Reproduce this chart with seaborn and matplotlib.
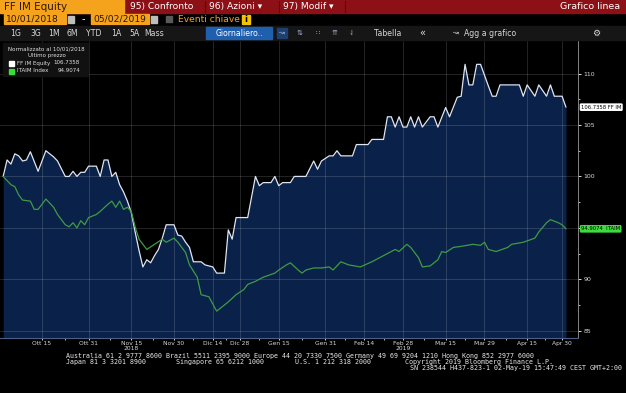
import numpy as np
import pandas as pd
import matplotlib
matplotlib.use("Agg")
import matplotlib.pyplot as plt
import seaborn as sns
from matplotlib import font_manager
from matplotlib.patches import Rectangle
from matplotlib.transforms import blended_transform_factory

# ------------------------------------------------------------
# Dati (normalizzati a 100 al 01/10/2018)
# ------------------------------------------------------------
holidays = ["2018-12-24", "2018-12-25", "2018-12-26", "2018-12-31",
            "2019-01-01", "2019-04-19", "2019-04-22", "2019-05-01"]

ff_dates = [
    "2018-10-01", "2018-10-02", "2018-10-03", "2018-10-04", "2018-10-05", "2018-10-08",
    "2018-10-09", "2018-10-10", "2018-10-12", "2018-10-16", "2018-10-18", "2018-10-19",
    "2018-10-23", "2018-10-24", "2018-10-25", "2018-10-26", "2018-10-29", "2018-10-30",
    "2018-10-31", "2018-11-02", "2018-11-05", "2018-11-06", "2018-11-07", "2018-11-08",
    "2018-11-09", "2018-11-12", "2018-11-13", "2018-11-14", "2018-11-15", "2018-11-16",
    "2018-11-19", "2018-11-20", "2018-11-21", "2018-11-22", "2018-11-23", "2018-11-26",
    "2018-11-27", "2018-11-28", "2018-11-30", "2018-12-03", "2018-12-04", "2018-12-05",
    "2018-12-06", "2018-12-07", "2018-12-11", "2018-12-12", "2018-12-14", "2018-12-17",
    "2018-12-19", "2018-12-20", "2018-12-21", "2018-12-27", "2019-01-03", "2019-01-07",
    "2019-01-08", "2019-01-09", "2019-01-11", "2019-01-14", "2019-01-15", "2019-01-16",
    "2019-01-18", "2019-01-21", "2019-01-24", "2019-01-28", "2019-01-29", "2019-01-30",
    "2019-02-01", "2019-02-04", "2019-02-05", "2019-02-06", "2019-02-11", "2019-02-12",
    "2019-02-15", "2019-02-18", "2019-02-21", "2019-02-22", "2019-02-25", "2019-02-26",
    "2019-02-27", "2019-02-28", "2019-03-01", "2019-03-04", "2019-03-05", "2019-03-06",
    "2019-03-07", "2019-03-11", "2019-03-12", "2019-03-13", "2019-03-15", "2019-03-18",
    "2019-03-20", "2019-03-21", "2019-03-22", "2019-03-25", "2019-03-26", "2019-03-27",
    "2019-03-28", "2019-04-01", "2019-04-02", "2019-04-03", "2019-04-04", "2019-04-11",
    "2019-04-12", "2019-04-15", "2019-04-17", "2019-04-18", "2019-04-24", "2019-04-25",
    "2019-04-26", "2019-04-30", "2019-05-02",
]
ff_values = [
    100.0, 101.6, 101.2, 102.2, 102.0, 101.5,
    101.6, 102.4, 100.5, 102.5, 101.9, 101.5,
    100.0, 100.0, 100.5, 100.0, 100.4, 100.4,
    101.0, 101.0, 100.0, 101.6, 101.6, 100.0,
    100.4, 99.2, 98.5, 97.6, 96.5, 94.6,
    92.8, 91.2, 91.9, 91.6, 92.3, 92.9,
    94.0, 95.3, 95.3, 94.3, 94.2, 93.6,
    93.1, 91.7, 91.7, 91.4, 91.2, 90.6,
    90.6, 94.8, 93.9, 96.0, 96.0, 100.0,
    99.1, 99.4, 99.4, 100.0, 99.1, 99.4,
    99.4, 100.0, 100.0, 101.5, 100.7, 101.5,
    102.0, 102.0, 102.5, 102.0, 102.0, 103.1,
    103.1, 103.6, 103.6, 105.8, 105.8, 104.8,
    105.8, 104.8, 104.8, 105.8, 104.8, 105.8,
    104.8, 105.8, 105.8, 104.8, 106.7, 105.8,
    107.7, 107.8, 110.9, 108.9, 108.9, 110.9,
    110.9, 108.8, 107.8, 107.8, 108.9, 108.9,
    107.8, 108.9, 107.8, 108.9, 107.8, 108.9,
    107.8, 107.8, 106.7358,
]

itaim_dates = [
    "2018-10-01", "2018-10-03", "2018-10-04", "2018-10-05", "2018-10-08", "2018-10-10",
    "2018-10-11", "2018-10-12", "2018-10-16", "2018-10-18", "2018-10-19", "2018-10-23",
    "2018-10-24", "2018-10-25", "2018-10-26", "2018-10-29", "2018-10-30", "2018-10-31",
    "2018-11-02", "2018-11-05", "2018-11-07", "2018-11-08", "2018-11-09", "2018-11-12",
    "2018-11-13", "2018-11-14", "2018-11-15", "2018-11-16", "2018-11-19", "2018-11-21",
    "2018-11-23", "2018-11-27", "2018-11-28", "2018-11-30", "2018-12-03", "2018-12-05",
    "2018-12-06", "2018-12-10", "2018-12-11", "2018-12-13", "2018-12-17", "2018-12-20",
    "2018-12-27", "2019-01-02", "2019-01-03", "2019-01-07", "2019-01-09", "2019-01-14",
    "2019-01-15", "2019-01-17", "2019-01-18", "2019-01-22", "2019-01-23", "2019-01-24",
    "2019-01-28", "2019-01-30", "2019-02-01", "2019-02-04", "2019-02-06", "2019-02-08",
    "2019-02-13", "2019-02-18", "2019-02-20", "2019-02-22", "2019-02-26", "2019-02-27",
    "2019-03-01", "2019-03-04", "2019-03-06", "2019-03-07", "2019-03-11", "2019-03-13",
    "2019-03-14", "2019-03-15", "2019-03-19", "2019-03-21", "2019-03-26", "2019-03-28",
    "2019-03-29", "2019-04-01", "2019-04-03", "2019-04-08", "2019-04-09", "2019-04-12",
    "2019-04-17", "2019-04-18", "2019-04-24", "2019-04-25", "2019-04-29", "2019-04-30",
    "2019-05-02",
]
itaim_values = [
    100.0, 99.2, 99.0, 98.2, 97.7, 97.6,
    96.8, 96.8, 97.8, 97.0, 96.3, 95.3,
    95.1, 95.5, 95.0, 95.7, 95.3, 96.0,
    96.3, 96.6, 97.3, 97.6, 97.0, 97.6,
    96.8, 97.0, 96.6, 95.1, 93.9, 92.9,
    93.4, 93.9, 93.6, 94.0, 93.6, 92.6,
    91.4, 90.2, 88.5, 88.3, 86.9, 87.8,
    88.5, 89.0, 89.5, 89.8, 90.2, 90.6,
    90.9, 91.4, 91.6, 90.9, 90.6, 90.9,
    91.1, 91.1, 91.2, 90.9, 91.7, 91.4,
    91.2, 91.7, 92.1, 92.5, 92.9, 92.7,
    93.4, 93.1, 92.1, 91.2, 91.3, 91.9,
    92.7, 92.6, 93.1, 93.2, 93.4, 93.3,
    93.6, 92.9, 92.7, 93.1, 93.4, 93.6,
    94.0, 94.6, 95.5, 95.8, 95.5, 95.3,
    94.9074,
]

tick_dates = ["2018-10-15", "2018-10-31", "2018-11-15", "2018-11-30", "2018-12-14",
              "2018-12-28", "2019-01-15", "2019-01-31", "2019-02-14", "2019-02-28",
              "2019-03-15", "2019-03-29", "2019-04-15", "2019-04-30"]
tick_labels = ["Ott 15", "Ott 31", "Nov 15", "Nov 30", "Dic 14", "Dic 28", "Gen 15",
               "Gen 31", "Feb 14", "Feb 28", "Mar 15", "Mar 29", "Apr 15", "Apr 30"]
year_dates = ["2018-11-15", "2019-02-28"]
year_labels = ["2018", "2019"]

# ------------------------------------------------------------
# Stile
# ------------------------------------------------------------
sns.set_theme(style="dark")
names = {f.name for f in font_manager.fontManager.ttflist}
narrow = "Liberation Sans Narrow" if "Liberation Sans Narrow" in names else "DejaVu Sans"
plt.rcParams["font.family"] = [narrow, "DejaVu Sans"]

BG = "#000000"
NAVY = "#0a2149"
WHITE_LINE = "#dfe6f2"
GREEN_LINE = "#3f9b45"
GREEN_TAG = "#3ddc3d"
ORANGE = "#f5a31c"
MAROON = "#8c1015"
TXT = "#d8d8d8"

# calendario sedute (Borsa Italiana)
sessions = pd.bdate_range("2018-10-01", "2019-05-02").drop(pd.to_datetime(holidays))

ff = pd.DataFrame({"data": pd.to_datetime(ff_dates), "valore": ff_values, "serie": "FF IM Equity"})
it = pd.DataFrame({"data": pd.to_datetime(itaim_dates), "valore": itaim_values, "serie": "ITAIM Index"})
df = pd.concat([ff, it], ignore_index=True)
df["pos"] = sessions.get_indexer(df["data"])
ff["pos"] = sessions.get_indexer(ff["data"])

W, H = 626, 393
fig = plt.figure(figsize=(W / 100, H / 100), dpi=100, facecolor=BG)

# area del grafico (in pixel: x 0-578, y 41-338)
ax = fig.add_axes([0, (H - 338) / H, 578 / W, (338 - 41) / H], zorder=1)
ax.set_facecolor(BG)
ylim = (84.29, 113.17)
ax.set_ylim(*ylim)
ax.set_xlim(-0.82, len(sessions) + 2.1)

ax.fill_between(ff["pos"], ff["valore"], ylim[0], color=NAVY, lw=0, zorder=1)
sns.lineplot(data=df, x="pos", y="valore", hue="serie",
             palette={"FF IM Equity": WHITE_LINE, "ITAIM Index": GREEN_LINE},
             estimator=None, lw=0.9, legend=False, ax=ax, zorder=3)

# griglia
ax.set_axisbelow("line")
ax.grid(True, color="white", alpha=0.17, lw=0.6)

# asse y a destra (il 95 resta sotto l'etichetta verde)
yt = np.arange(85, 111, 5)
ax.yaxis.tick_right()
ax.set_yticks(yt)
ax.set_yticklabels(["" if v == 95 else f"{v:d}" for v in yt])
ax.set_yticks(np.arange(85, 112, 2.5), minor=True)
ax.tick_params(axis="y", which="major", colors="white", labelcolor=TXT, labelsize=4.5,
               length=2.5, width=0.6, pad=1.5, right=True, left=False)
ax.tick_params(axis="y", which="minor", colors="white", length=1.3, width=0.5, right=True, left=False)
ax.grid(False, which="minor")

# asse x
xt = sessions.get_indexer(pd.to_datetime(tick_dates))
ax.set_xticks(xt)
ax.set_xticklabels(tick_labels)
ax.set_xticks((xt[:-1] + xt[1:]) / 2, minor=True)
ax.tick_params(axis="x", which="major", colors="white", labelcolor=TXT, labelsize=4.3,
               length=1.5, width=0.6, pad=0.6, bottom=True)
ax.tick_params(axis="x", which="minor", colors="white", length=1.2, width=0.5, bottom=True)
trans = blended_transform_factory(ax.transData, ax.transAxes)
for d, lab in zip(year_dates, year_labels):
    ax.text(sessions.get_loc(pd.Timestamp(d)), -0.026, lab, transform=trans,
            ha="center", va="top", fontsize=4.3, color=TXT)

ax.set_xlabel("")
ax.set_ylabel("")
for s in ["top", "left"]:
    ax.spines[s].set_visible(False)
ax.spines["bottom"].set_color("#4a5f86")
ax.spines["bottom"].set_linewidth(0.8)
ax.spines["right"].set_color("#9a9a9a")
ax.spines["right"].set_linewidth(0.6)

# etichette ultimo valore
ax.annotate(f"{ff_values[-1]:.4f} FF IM", xy=(1, ff_values[-1]), xycoords=("axes fraction", "data"),
            xytext=(2.2, 0), textcoords="offset points", ha="left", va="center",
            fontsize=3.8, color="black", annotation_clip=False, zorder=10,
            bbox=dict(boxstyle="round,pad=0.25", fc="white", ec="none"))
ax.annotate(f"{itaim_values[-1]:.4f}  ITAIM", xy=(1, itaim_values[-1]), xycoords=("axes fraction", "data"),
            xytext=(2.2, 0), textcoords="offset points", ha="left", va="center",
            fontsize=3.8, color="black", annotation_clip=False, zorder=10,
            bbox=dict(boxstyle="round,pad=0.25", fc=GREEN_TAG, ec="none"))

# ------------------------------------------------------------
# Interfaccia Bloomberg (coordinate in pixel)
# ------------------------------------------------------------
ui = fig.add_axes([0, 0, 1, 1], zorder=3)
ui.set_xlim(0, W)
ui.set_ylim(H, 0)
ui.axis("off")
ui.patch.set_alpha(0)

# riga 1
ui.add_patch(Rectangle((0, 0), W, 12.5, color=MAROON))
ui.add_patch(Rectangle((0, 0), 124, 12.5, color=ORANGE))
ui.text(4, 6.6, "FF IM Equity", fontsize=7.5, color="#2a1600", va="center")
ui.text(130, 6.6, "95) Confronto", fontsize=6.6, color="white", va="center")
ui.text(209, 6.6, "96) Azioni \u25be", fontsize=6.6, color="white", va="center")
ui.text(283, 6.6, "97) Modif \u25be", fontsize=6.6, color="white", va="center")
ui.text(620, 6.6, "Grafico linea", fontsize=6.8, color="white", va="center", ha="right")
for xs in [205, 279, 345]:
    ui.plot([xs, xs], [1, 12], color="#5a080b", lw=0.8)

# riga 2
ui.add_patch(Rectangle((4, 14), 62, 10, color=ORANGE))
ui.text(6, 19.3, "10/01/2018", fontsize=6.6, color="#2a1600", va="center")
ui.add_patch(Rectangle((68, 15.5), 6, 7, color="#bdbdbd"))
ui.text(83, 19, "-", fontsize=7, color="white", va="center", ha="center")
ui.add_patch(Rectangle((91, 14), 58, 10, color=ORANGE))
ui.text(93, 19.3, "05/02/2019", fontsize=6.6, color="#2a1600", va="center")
ui.add_patch(Rectangle((151, 15.5), 6, 7, color="#bdbdbd"))
ui.add_patch(Rectangle((166, 16), 6, 6, color="#5a5a5a"))
ui.text(178, 19.3, "Eventi chiave", fontsize=6.6, color=ORANGE, va="center")
ui.add_patch(Rectangle((242, 14.5), 8, 9, color="#f2c400"))
ui.text(246, 19.3, "i", fontsize=6, color="black", va="center", ha="center", fontweight="bold")

# riga 3
ui.add_patch(Rectangle((0, 25.5), W, 14.5, color="#161616"))
for xc, lab in zip([16, 36, 54, 72, 94, 116, 134, 154],
                   ["1G", "3G", "1M", "6M", "YTD", "1A", "5A", "Mass"]):
    ui.text(xc, 33, lab, fontsize=5.6, color=TXT, va="center", ha="center")
ui.add_patch(Rectangle((206, 27), 66, 11.5, color="#1f5fae"))
ui.text(239, 33, "Giornaliero..", fontsize=5.6, color="white", va="center", ha="center")
ui.add_patch(Rectangle((277, 27.5), 10, 10.5, color="#1f3f70"))
for xc, sym in zip([282, 300, 318, 335, 352], ["\u219d", "\u21c5", "\u2237", "\u21c8", "\u21c3"]):
    ui.text(xc, 33, sym, fontsize=5, color="#9fb8e0", va="center", ha="center", family="DejaVu Sans")
ui.text(388, 33, "Tabella", fontsize=5.6, color=TXT, va="center", ha="center")
ui.text(422, 33, "\u00ab", fontsize=7, color=TXT, va="center", ha="center")
ui.text(456, 33, "\u219d", fontsize=5, color=TXT, va="center", ha="center", family="DejaVu Sans")
ui.text(464, 33, "Agg a grafico", fontsize=5.6, color=TXT, va="center")
ui.text(596, 33, "\u2699", fontsize=6.5, color=TXT, va="center", ha="center", family="DejaVu Sans")

# legenda
ui.add_patch(Rectangle((3, 43), 85, 33, color="#111111"))
ui.text(8, 49, "Normalizzato al 10/01/2018", fontsize=4, color="#e0e0e0", va="center")
ui.text(47, 56, "Ultimo prezzo", fontsize=4, color="#e0e0e0", va="center", ha="center")
ui.add_patch(Rectangle((9, 60.5), 5, 5, color="white"))
ui.text(17, 63, "FF IM Equity", fontsize=4, color="#e0e0e0", va="center")
ui.text(80, 63, f"{ff_values[-1]:.4f}", fontsize=4, color="#e0e0e0", va="center", ha="right")
ui.add_patch(Rectangle((9, 68.5), 5, 5, color=GREEN_TAG))
ui.text(17, 71, "ITAIM Index", fontsize=4, color="#e0e0e0", va="center")
ui.text(80, 71, f"{itaim_values[-1]:.4f}", fontsize=4, color="#e0e0e0", va="center", ha="right")

# piè di pagina
mono = dict(family="DejaVu Sans Mono", fontsize=4.8, color="#e8e8e8", va="center")
ui.text(66, 356, "Australia 61 2 9777 8600 Brazil 5511 2395 9000 Europe 44 20 7330 7500 "
                 "Germany 49 69 9204 1210 Hong Kong 852 2977 6000", **mono)
ui.text(66, 362, "Japan 81 3 3201 8900", **mono)
ui.text(176, 362, "Singapore 65 6212 1000", **mono)
ui.text(295, 362, "U.S. 1 212 318 2000", **mono)
ui.text(405, 362, "Copyright 2019 Bloomberg Finance L.P.", **mono)
ui.text(622, 368, "SN 238544 H437-823-1 02-May-19 15:47:49 CEST GMT+2:00", ha="right", **mono)

fig.savefig("out.png", dpi=100, facecolor=BG)
